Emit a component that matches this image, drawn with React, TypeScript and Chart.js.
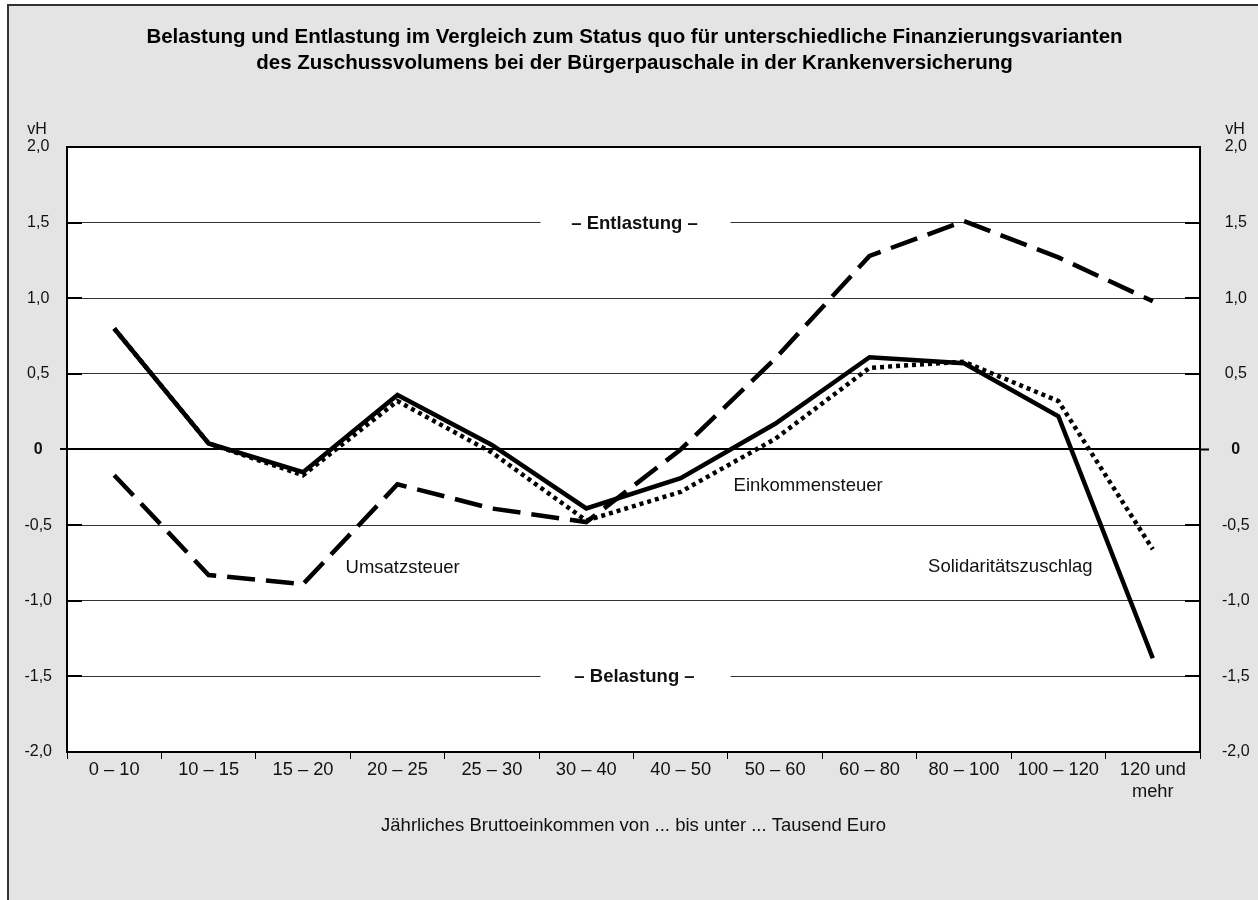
import React, { useEffect, useRef } from 'react';
import { Chart, registerables } from 'chart.js';

Chart.register(...registerables);

const FONT = '"Liberation Sans", Arial, Helvetica, sans-serif';

// ---- data ----
const categories: (string | string[])[] = [
  '0 – 10', '10 – 15', '15 – 20', '20 – 25', '25 – 30', '30 – 40',
  '40 – 50', '50 – 60', '60 – 80', '80 – 100', '100 – 120', ['120 und', 'mehr'],
];

const solidaritaetszuschlag = [0.8, 0.04, -0.15, 0.36, 0.03, -0.39, -0.19, 0.17, 0.61, 0.57, 0.22, -1.38];
const einkommensteuer = [0.8, 0.04, -0.17, 0.32, -0.02, -0.47, -0.28, 0.07, 0.54, 0.58, 0.32, -0.66];
const umsatzsteuer = [-0.17, -0.83, -0.89, -0.23, -0.39, -0.48, 0.0, 0.6, 1.28, 1.51, 1.27, 0.98];

const yTickValues = [-2, -1.5, -1, -0.5, 0, 0.5, 1, 1.5, 2];
const yTickLabels = ['-2,0', '-1,5', '-1,0', '-0,5', '0', '0,5', '1,0', '1,5', '2,0'];

const titleLines = [
  'Belastung und Entlastung im Vergleich zum Status quo für unterschiedliche Finanzierungsvarianten',
  'des Zuschussvolumens bei der Bürgerpauschale in der Krankenversicherung',
];
const xAxisTitle = 'Jährliches Bruttoeinkommen von ... bis unter ... Tausend Euro';
const unitLabel = 'vH';

const bandLabelTexts = ['– Entlastung –', '– Belastung –'];
const bandLabelValues = [1.5, -1.5];

const seriesLabelTexts = ['Umsatzsteuer', 'Einkommensteuer', 'Solidaritätszuschlag'];
const seriesLabelIndex = [2.45, 6.56, 8.62];
const seriesLabelValues = [-0.77, -0.23, -0.76];

const overlayPlugin = {
  id: 'overlay',
  beforeDraw(chart: any) {
    const { ctx, chartArea } = chart;
    ctx.save();
    ctx.fillStyle = '#ffffff';
    ctx.fillRect(chartArea.left, chartArea.top, chartArea.right - chartArea.left, chartArea.bottom - chartArea.top);
    ctx.restore();
  },
  beforeDatasetsDraw(chart: any) {
    const { ctx, chartArea, scales } = chart;
    const y = scales.y;
    ctx.save();
    // inner tick stubs
    ctx.strokeStyle = '#000';
    ctx.lineWidth = 2;
    yTickValues.forEach((v) => {
      if (v === 0 || Math.abs(v) === 2) return;
      const py = Math.round(y.getPixelForValue(v));
      ctx.beginPath();
      ctx.moveTo(chartArea.left, py);
      ctx.lineTo(chartArea.left + 15, py);
      ctx.moveTo(chartArea.right - 15, py);
      ctx.lineTo(chartArea.right, py);
      ctx.stroke();
    });
    // band labels
    const cx = (chartArea.left + chartArea.right) / 2;
    ctx.font = `bold 18.5px ${FONT}`;
    ctx.textAlign = 'center';
    ctx.textBaseline = 'middle';
    bandLabelTexts.forEach((t, i) => {
      const py = y.getPixelForValue(bandLabelValues[i]);
      ctx.fillStyle = '#ffffff';
      ctx.fillRect(cx - 93, py - 4, 190, 8);
      ctx.fillStyle = '#111';
      ctx.fillText(t, cx + 1, py + 1);
    });
    ctx.restore();
  },
  afterDatasetsDraw(chart: any) {
    const { ctx, scales } = chart;
    ctx.save();
    ctx.font = `18.5px ${FONT}`;
    ctx.fillStyle = '#111';
    ctx.textAlign = 'left';
    ctx.textBaseline = 'middle';
    seriesLabelTexts.forEach((t, i) => {
      const px = scales.x.getPixelForValue(seriesLabelIndex[i]);
      const py = scales.y.getPixelForValue(seriesLabelValues[i]);
      ctx.fillText(t, px, py + 2);
    });
    ctx.restore();
  },
  afterDraw(chart: any) {
    const { ctx, chartArea } = chart;
    ctx.save();
    ctx.font = `16px ${FONT}`;
    ctx.fillStyle = '#111';
    ctx.textAlign = 'center';
    ctx.textBaseline = 'middle';
    ctx.fillText(unitLabel, chartArea.left - 30, chartArea.top - 17);
    ctx.fillText(unitLabel, chartArea.right + 35, chartArea.top - 17);
    ctx.restore();
  },
};

const tickColorZero = (c: any) => (c.tick && c.tick.value === 0 ? '#000' : 'rgba(0,0,0,0)');

export default function App() {
  const ref = useRef<HTMLCanvasElement | null>(null);

  useEffect(() => {
    if (!ref.current) return;
    const yLabel = (value: any) => {
      const i = yTickValues.indexOf(Number(value));
      return i >= 0 ? yTickLabels[i] : '';
    };
    const yFont = (c: any) => ({
      family: FONT,
      size: 16,
      weight: c.tick && c.tick.value === 0 ? 'bold' : 'normal',
    });
    const chart = new Chart(ref.current, {
      type: 'line',
      data: {
        labels: categories as any,
        datasets: [
          {
            label: 'Solidaritätszuschlag',
            data: solidaritaetszuschlag,
            borderColor: '#000',
            borderWidth: 4.5,
            borderJoinStyle: 'miter',
            pointRadius: 0,
            tension: 0,
            fill: false,
          },
          {
            label: 'Einkommensteuer',
            data: einkommensteuer,
            borderColor: '#000',
            borderWidth: 4.5,
            borderDash: [4, 4],
            borderCapStyle: 'butt',
            pointRadius: 0,
            tension: 0,
            fill: false,
          },
          {
            label: 'Umsatzsteuer',
            data: umsatzsteuer,
            borderColor: '#000',
            borderWidth: 4.5,
            borderDash: [28, 11],
            borderCapStyle: 'butt',
            pointRadius: 0,
            tension: 0,
            fill: false,
          },
        ],
      },
      options: {
        animation: false,
        responsive: false,
        devicePixelRatio: 1,
        layout: { padding: { left: 11, right: 0, top: 0, bottom: 0 } },
        plugins: {
          legend: { display: false },
          tooltip: { enabled: false },
          title: {
            display: true,
            text: titleLines,
            color: '#000',
            font: { family: FONT, size: 20.5, weight: 'bold', lineHeight: 1.28 },
            padding: { top: 24, bottom: 70.5 },
          },
        },
        scales: {
          x: {
            type: 'category',
            offset: true,
            grid: {
              offset: true,
              drawOnChartArea: false,
              drawTicks: true,
              tickLength: 7,
              tickColor: '#000',
              tickWidth: 1,
            },
            border: { display: true, color: '#000', width: 2 },
            ticks: {
              color: '#111',
              font: { family: FONT, size: 18.3, lineHeight: 1.2 },
              padding: 0,
              maxRotation: 0,
              autoSkip: false,
            },
            title: {
              display: true,
              text: xAxisTitle,
              color: '#111',
              font: { family: FONT, size: 18.5, lineHeight: 1.2 },
              padding: { top: 0, bottom: 63 },
            },
            afterFit: (scale: any) => { scale.height = 148; },
          },
          y: {
            position: 'left',
            min: -2,
            max: 2,
            afterBuildTicks: (scale: any) => { scale.ticks = yTickValues.map((v) => ({ value: v })); },
            grid: {
              color: (c: any) => (c.tick && (c.tick.value === 0 || Math.abs(c.tick.value) === 2) ? '#000' : '#333'),
              lineWidth: (c: any) => (c.tick && (c.tick.value === 0 || Math.abs(c.tick.value) === 2) ? 2 : 1),
              drawTicks: true,
              tickLength: 7,
              tickColor: tickColorZero,
              tickWidth: 2,
            },
            border: { display: true, color: '#000', width: 2 },
            ticks: {
              callback: yLabel,
              color: '#111',
              font: yFont as any,
              crossAlign: 'center',
              padding: 8,
            },
            afterFit: (scale: any) => { scale.width = 56; },
          },
          y2: {
            position: 'right',
            min: -2,
            max: 2,
            display: true,
            afterBuildTicks: (scale: any) => { scale.ticks = yTickValues.map((v) => ({ value: v })); },
            grid: {
              drawOnChartArea: false,
              drawTicks: true,
              tickLength: 9,
              tickColor: tickColorZero,
              tickWidth: 2,
            },
            border: { display: true, color: '#000', width: 2 },
            ticks: {
              callback: yLabel,
              color: '#111',
              font: yFont as any,
              crossAlign: 'center',
              padding: 13,
            },
            afterFit: (scale: any) => { scale.width = 58; },
          },
        },
      } as any,
      plugins: [overlayPlugin],
    });
    return () => chart.destroy();
  }, []);

  return (
    <div style={{ position: 'absolute', left: 0, top: 0, width: 1258, height: 900, overflow: 'hidden' }}>
      <div
        style={{
          position: 'absolute',
          left: 7,
          top: 4,
          width: 1251,
          height: 896,
          boxSizing: 'border-box',
          background: '#e4e4e4',
          borderLeft: '2px solid #333',
          borderTop: '2px solid #333',
        }}
      />
      <canvas
        ref={ref}
        width={1258}
        height={900}
        style={{ position: 'absolute', left: 0, top: 0, width: 1258, height: 900 }}
      />
    </div>
  );
}
